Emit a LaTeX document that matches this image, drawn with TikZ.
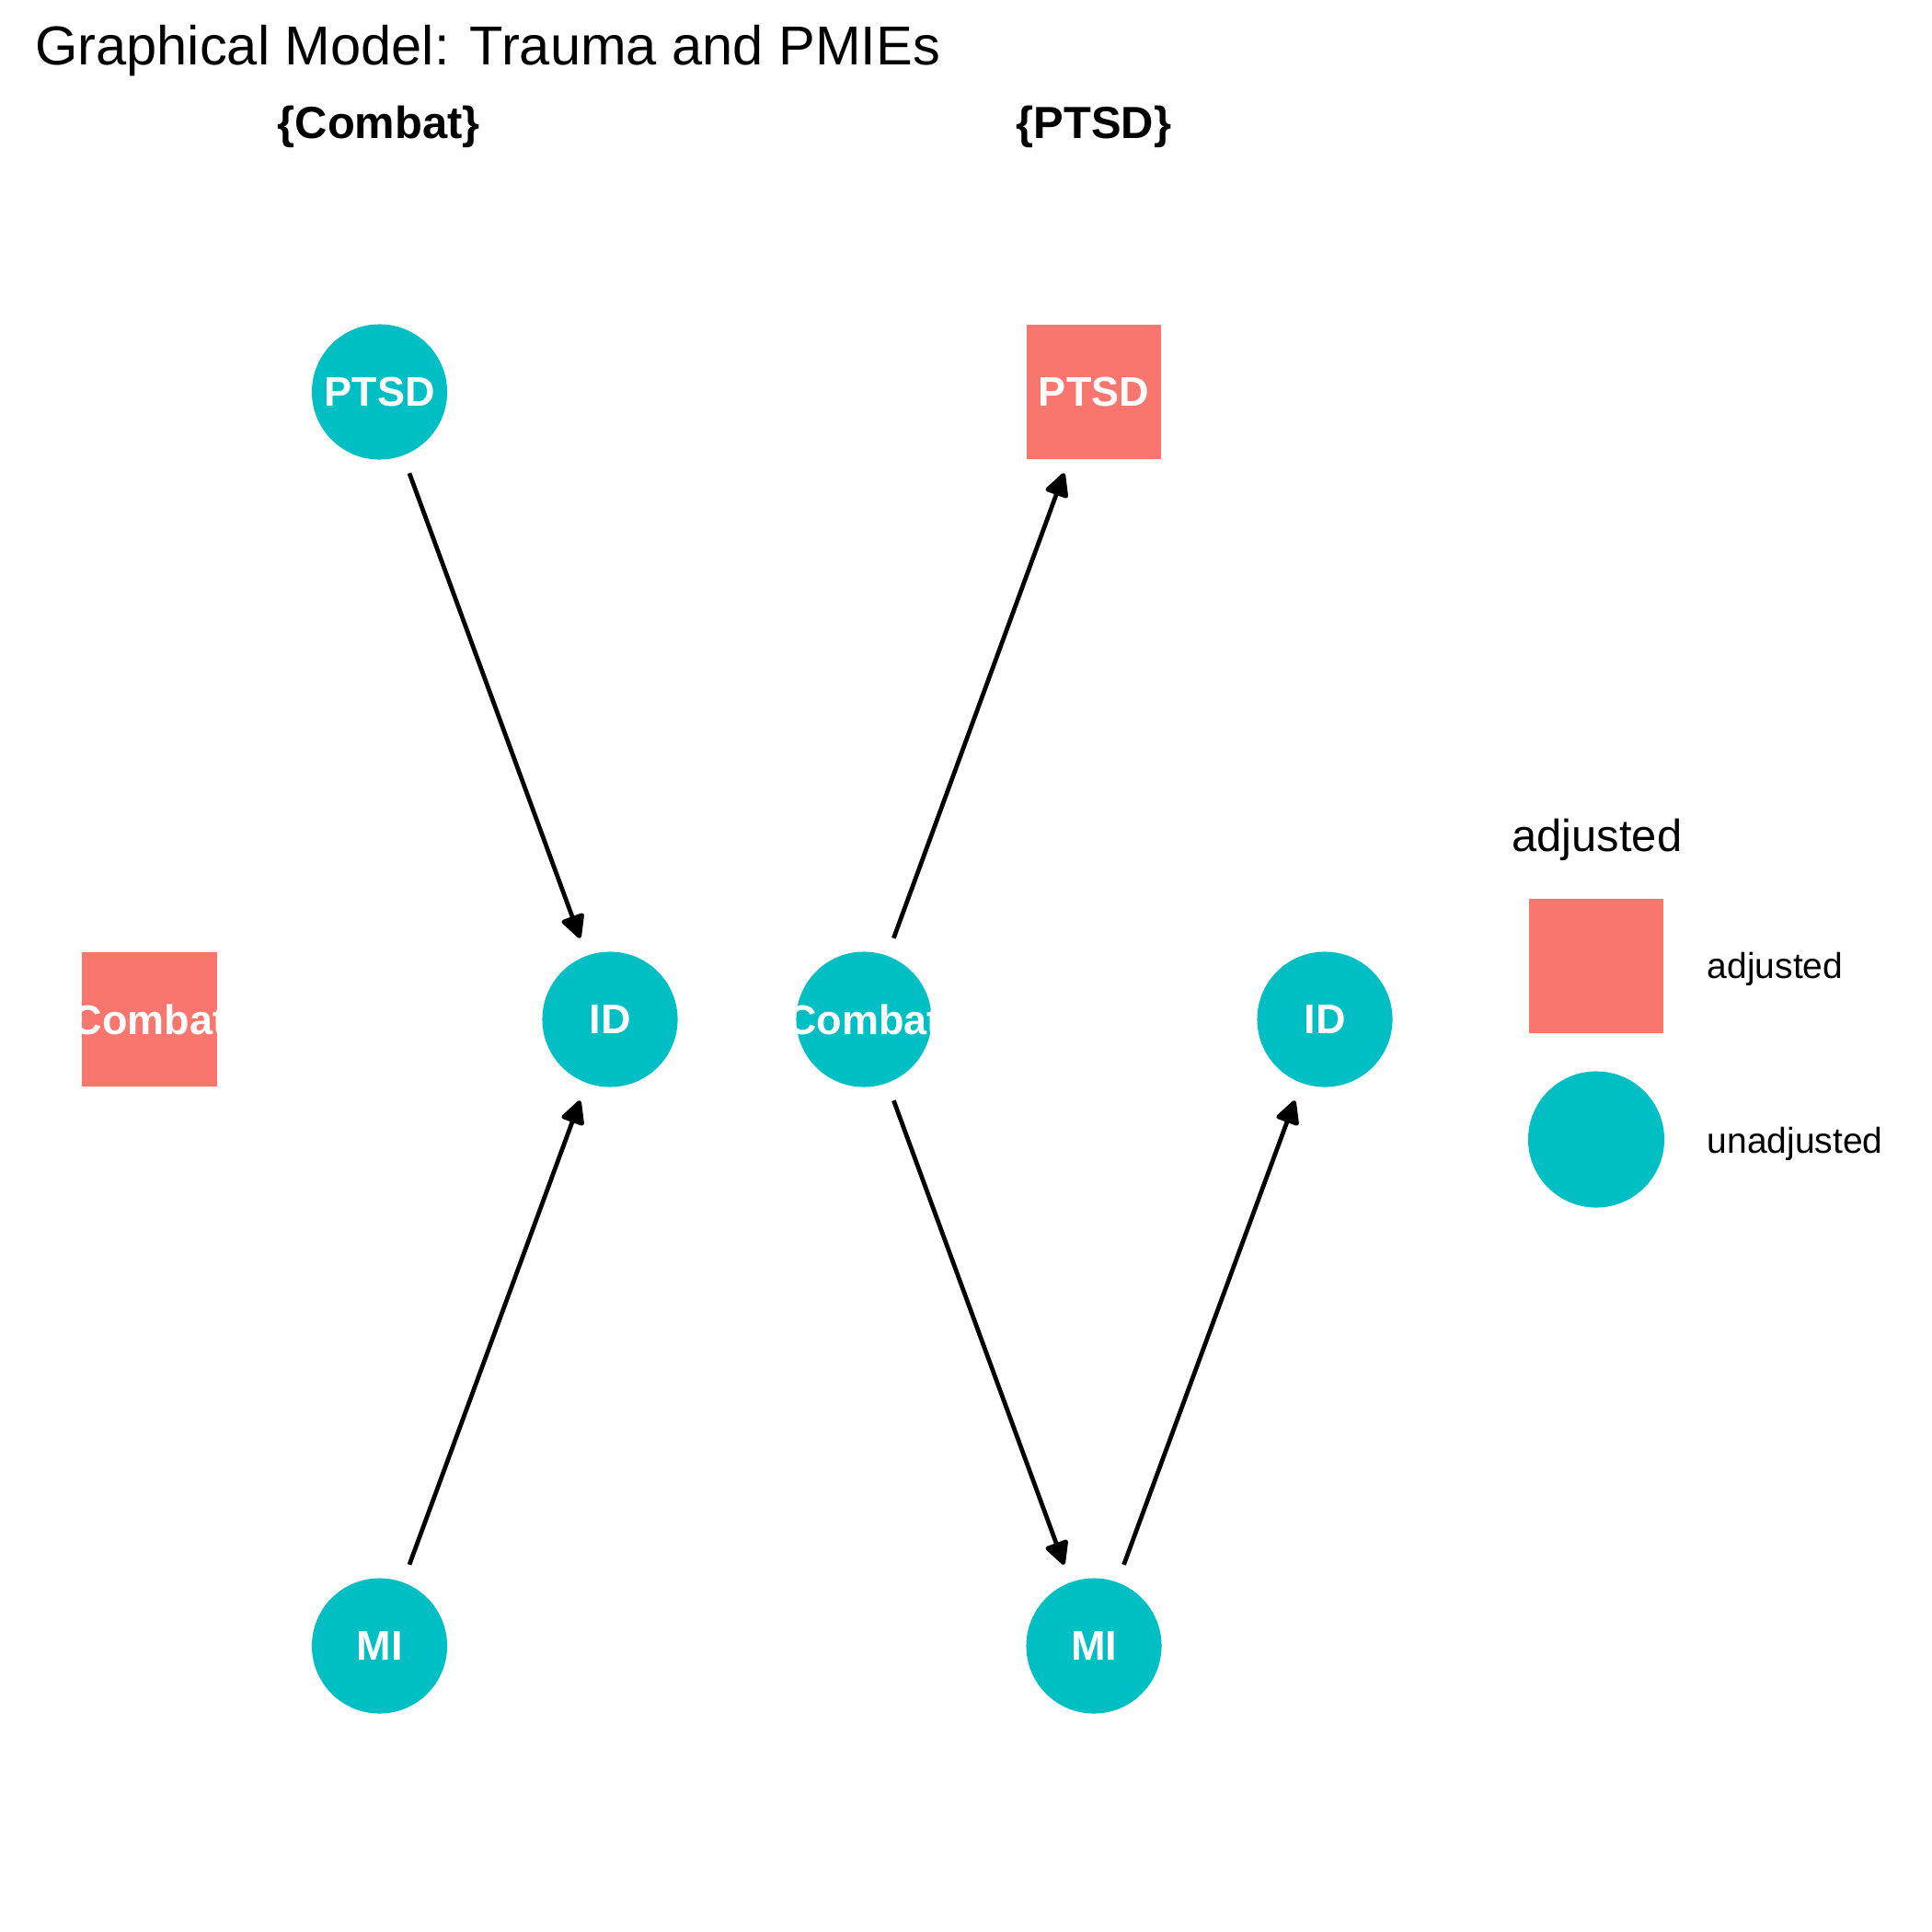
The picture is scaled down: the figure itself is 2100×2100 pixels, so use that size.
\documentclass[tikz,border=0pt]{standalone}
\usepackage{fontspec}
\setmainfont{Liberation Sans}
\usetikzlibrary{arrows.meta}
\definecolor{adj}{HTML}{F8766D}
\definecolor{unadj}{HTML}{00BFC4}
\begin{document}
\begin{tikzpicture}[x=0.01cm,y=-0.01cm,
  nodefont/.style={text=white,font=\bfseries\fontsize{12.8}{15}\selectfont},
  circ/.style={circle,fill=unadj,minimum size=1.47cm,inner sep=0pt,nodefont},
  sq/.style={rectangle,fill=adj,minimum size=1.46cm,inner sep=0pt,nodefont},
  edge/.style={-{Triangle[length=8pt,width=7.8pt,round]},line width=1.35pt,shorten <=0.94cm,shorten >=0.94cm},
  paneltitle/.style={anchor=base,font=\bfseries\fontsize{13.9}{16}\selectfont},
  legtext/.style={anchor=base west,font=\fontsize{11.1}{13}\selectfont}]
\useasboundingbox (0,0) rectangle (2100,2100);
\fill[white] (0,0) rectangle (2100,2100);
% title
\node[anchor=base west,inner sep=0pt,font=\fontsize{16.95}{20}\selectfont] (title) at (37.5,71) {Graphical Model: Trauma and PMIEs};
\node[paneltitle,inner sep=0pt] (t1) at (411.7,150.7) {\{Combat\}};
\node[paneltitle,inner sep=0pt] (t2) at (1189,150.7) {\{PTSD\}};
% left panel
\node[circ] (p1) at (412.5,426) {PTSD};
\node[circ] (i1) at (663,1108) {ID};
\node[circ] (m1) at (412.5,1789) {MI};
\node[sq] (c1) at (162.5,1108) {\makebox[0pt]{Combat}};
% right panel
\node[sq] (p2) at (1189,426) {PTSD};
\node[circ] (c2) at (939,1108) {\makebox[0pt]{Combat}};
\node[circ] (i2) at (1440,1108) {ID};
\node[circ] (m2) at (1189,1789) {MI};
% edges
\draw[edge] (p1.center) -- (i1.center);
\draw[edge] (m1.center) -- (i1.center);
\draw[edge] (c2.center) -- (p2.center);
\draw[edge] (c2.center) -- (m2.center);
\draw[edge] (m2.center) -- (i2.center);
% legend
\node[anchor=base west,inner sep=0pt,font=\fontsize{13.9}{16}\selectfont] (lt) at (1642.7,925) {adjusted};
\node[rectangle,fill=adj,minimum size=1.46cm,inner sep=0pt] (ls) at (1735,1050) {};
\node[circle,fill=unadj,minimum size=1.48cm,inner sep=0pt] (lc) at (1735,1238.5) {};
\node[legtext,inner sep=0pt] (la) at (1855,1063) {adjusted};
\node[legtext,inner sep=0pt] (lu) at (1855,1253) {unadjusted};
\end{tikzpicture}
\end{document}
